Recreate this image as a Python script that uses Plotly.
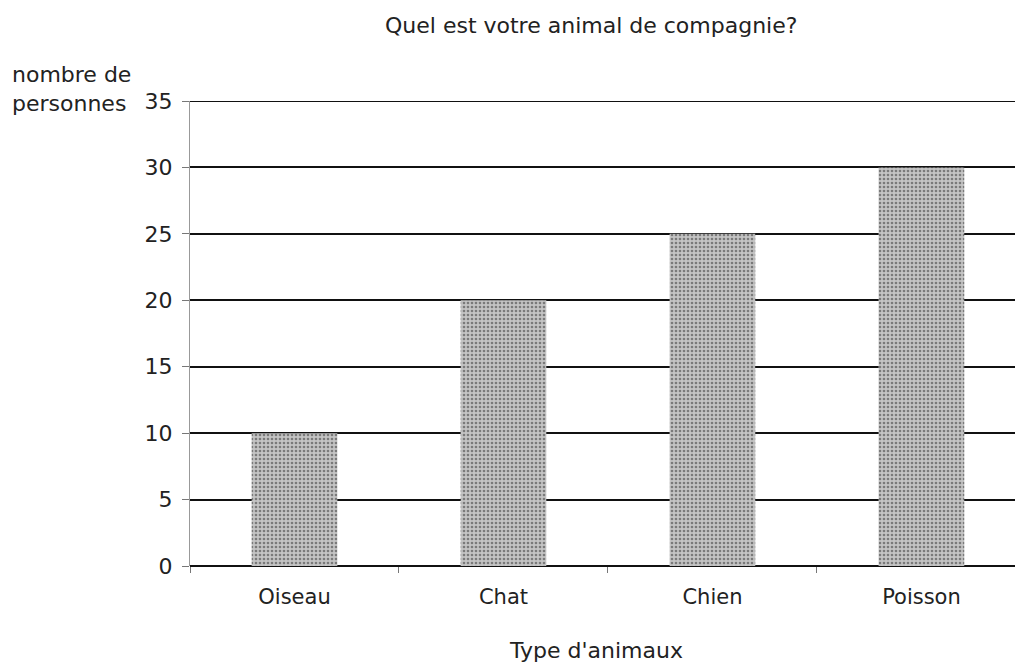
import plotly.graph_objects as go

categories = ["Oiseau", "Chat", "Chien", "Poisson"]
values = [10, 20, 25, 30]
y_ticks = [0, 5, 10, 15, 20, 25, 30, 35]

fig = go.Figure()
fig.add_trace(go.Bar(
    x=categories, y=values, width=0.41,
    marker=dict(color="#b4b4b4", line=dict(width=0),
                pattern=dict(shape=".", size=4, solidity=0.35,
                             fgcolor="#7a7a7a", bgcolor="#c4c4c4", fillmode="replace")),
))

font = "DejaVu Sans, Verdana, sans-serif"
OFF = 8  # page body margin
FW, FH = 1023 - OFF, 667 - OFF
L, T = 190 - OFF, 101 - OFF
W, H = FW - L, 465
fig.update_layout(
    width=FW, height=FH,
    margin=dict(l=L, r=0, t=T, b=FH - T - H, autoexpand=False),
    plot_bgcolor="white", paper_bgcolor="white",
    showlegend=False,
    font=dict(family=font, color="#222", size=22),
)
fig.update_xaxes(
    range=[-0.5, 3.486], tickson="boundaries", ticks="outside", ticklen=6,
    tickcolor="#777", tickwidth=1, showgrid=False, showline=False, automargin=False,
    tickfont=dict(size=21, family=font, color="#222"), ticklabelstandoff=16,
)
fig.update_yaxes(
    range=[0, 35], tickvals=y_ticks, showgrid=True, gridcolor="#111", gridwidth=2,
    zeroline=True, zerolinecolor="#111", zerolinewidth=2, automargin=False,
    showline=True, linecolor="#999", linewidth=1, ticks="outside", ticklen=7, tickcolor="#777",
    tickfont=dict(size=22, family=font, color="#222"), ticklabelstandoff=5,
)
# top gridline at 35
fig.add_shape(type="line", xref="paper", yref="y", x0=0, x1=1, y0=y_ticks[-1], y1=y_ticks[-1],
              line=dict(color="#111", width=2))


def px(xp):
    return (xp - OFF - L) / W


def py(yp):
    return 1 - (yp - OFF - T) / H


fig.add_annotation(text="Quel est votre animal de compagnie?", xref="paper", yref="paper",
                   x=px(591), y=py(26), xanchor="center", yanchor="middle", showarrow=False,
                   font=dict(size=22, family=font, color="#222"))
fig.add_annotation(text="nombre de<br>personnes", xref="paper", yref="paper",
                   x=px(10), y=py(89), xanchor="left", yanchor="middle", align="left",
                   showarrow=False, font=dict(size=22, family=font, color="#222"))
fig.add_annotation(text="Type d'animaux", xref="paper", yref="paper",
                   x=px(596), y=py(650), xanchor="center", yanchor="middle", showarrow=False,
                   font=dict(size=22, family=font, color="#222"))

fig.write_html("out.html")
